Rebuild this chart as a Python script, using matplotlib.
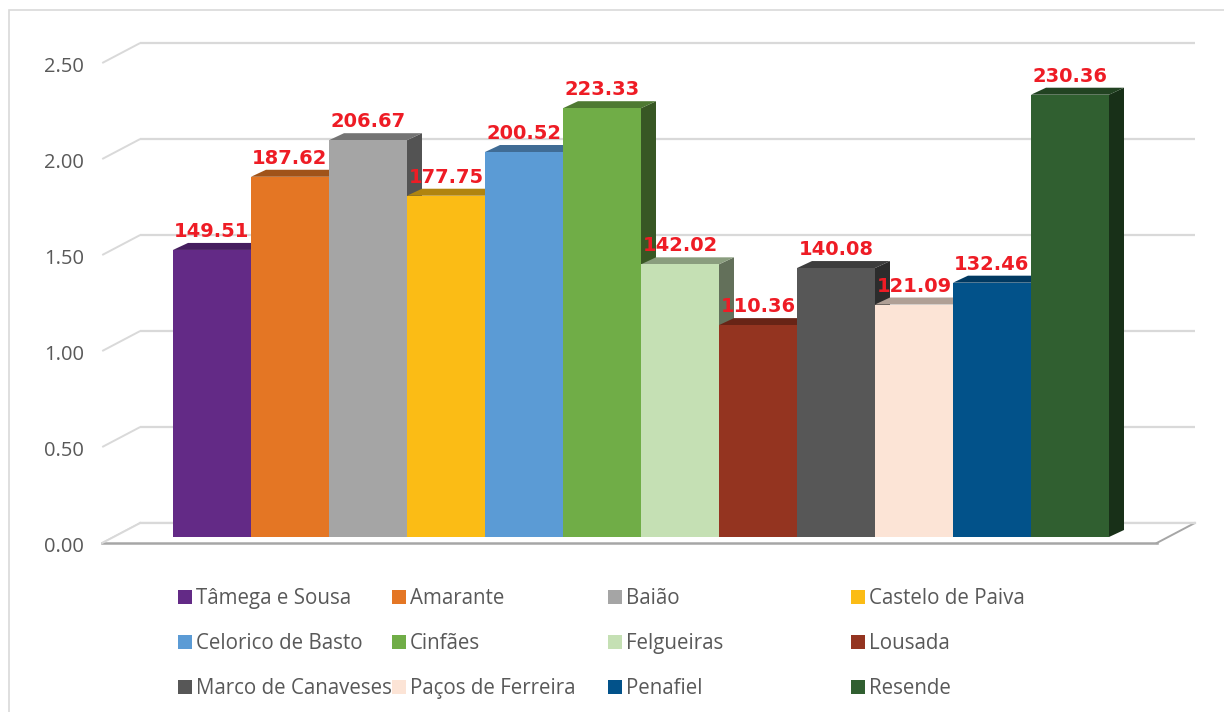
import matplotlib
matplotlib.use('Agg')
import matplotlib.pyplot as plt
from matplotlib.patches import Polygon, Rectangle
from matplotlib.transforms import Affine2D, IdentityTransform, blended_transform_factory
from matplotlib.colors import to_rgb

# dados
municipios = ['Tâmega e Sousa', 'Amarante', 'Baião', 'Castelo de Paiva',
              'Celorico de Basto', 'Cinfães', 'Felgueiras', 'Lousada',
              'Marco de Canaveses', 'Paços de Ferreira', 'Penafiel', 'Resende']
valores = [149.51, 187.62, 206.67, 177.75, 200.52, 223.33,
           142.02, 110.36, 140.08, 121.09, 132.46, 230.36]
cores = ['#632A86', '#E47624', '#A5A5A5', '#FBBC15', '#5B9BD5', '#70AD47',
         '#C5E0B4', '#943420', '#575757', '#FCE4D6', '#02528A', '#305F30']
niveis = [0.0, 0.5, 1.0, 1.5, 2.0, 2.5]

alturas = [v / 100 for v in valores]

W, H = 1224, 712
fig = plt.figure(figsize=(W / 100, H / 100), dpi=100)

# geometria (pixeis)
px_bar = 78.0      # largura de cada barra
px_unit = 192.0    # pixeis por unidade do eixo
x_first = 173      # borda esquerda da primeira barra
y_base = 537       # base das barras
ax_l, ax_r, ax_t, ax_b = 60, 1215, 15, 570

ax = fig.add_axes([ax_l / W, 1 - ax_b / H, (ax_r - ax_l) / W, (ax_b - ax_t) / H])
ax.set_xlim((ax_l - x_first) / px_bar - 0.5, (ax_r - x_first) / px_bar - 0.5)
ax.set_ylim((y_base - ax_b) / px_unit, (y_base - ax_t) / px_unit)
ax.axis('off')


def ddx(p):
    return p / px_bar


def ddy(p):
    return p / px_unit


def shade(c, f):
    r, g, b = to_rgb(c)
    return (r * f, g * f, b * f)


# planos de profundidade (pixeis em relacao ao plano das barras)
fx, fy = -11.5, -6     # frente
bx, by = 26.5, 14      # fundo
px_depth, py_depth = 15, 7

n = len(valores)
xL = -0.5 - 0.76
xR = n - 0.5 + 0.76

grid_c = '#D9D9D9'
for v in niveis:
    ax.plot([xL + ddx(fx), xL + ddx(bx)], [v + ddy(fy), v + ddy(by)],
            color=grid_c, lw=1.4, zorder=1, solid_capstyle='butt')
    ax.plot([xL + ddx(bx), xR + ddx(bx)], [v + ddy(by)] * 2,
            color=grid_c, lw=1.6, zorder=1, solid_capstyle='butt')

# chao
floor = Polygon([(xL + ddx(fx), ddy(fy)), (xR + ddx(fx), ddy(fy)),
                 (xR + ddx(bx), ddy(by)), (xL + ddx(bx), ddy(by))],
                closed=True, facecolor='white', edgecolor='none', zorder=1.2)
ax.add_patch(floor)
ax.plot([xL + ddx(fx), xR + ddx(fx)], [ddy(fy)] * 2, color='#A6A6A6', lw=1.8, zorder=1.3)
ax.plot([xR + ddx(fx), xR + ddx(bx)], [ddy(fy), ddy(by)], color='#A6A6A6', lw=1.4, zorder=1.3)
ax.plot([xL + ddx(fx), xL + ddx(bx)], [ddy(fy), ddy(by)], color=grid_c, lw=1.4, zorder=1.3)
ax.plot([xL + ddx(bx), xR + ddx(bx)], [ddy(by)] * 2, color=grid_c, lw=1.6, zorder=1.3)

# barras (face frontal)
pos = list(range(n))
bars = ax.bar(pos, alturas, width=1.0, color=cores, linewidth=0)
dxb, dyb = ddx(px_depth), ddy(py_depth)
for i, (rect, h, c) in enumerate(zip(bars, alturas, cores)):
    z = 2 + i * 0.1
    rect.set_zorder(z + 0.05)
    x0, x1 = i - 0.5, i + 0.5
    side = Polygon([(x1, 0), (x1 + dxb, dyb), (x1 + dxb, h + dyb), (x1, h)],
                   closed=True, facecolor=shade(c, 0.5), edgecolor='none', zorder=z)
    top = Polygon([(x0, h), (x1, h), (x1 + dxb, h + dyb), (x0 + dxb, h + dyb)],
                  closed=True, facecolor=shade(c, 0.7), edgecolor='none', zorder=z + 0.01)
    ax.add_patch(side)
    ax.add_patch(top)

# rotulos de dados
for i, (h, val) in enumerate(zip(alturas, valores)):
    ax.text(i, h + ddy(13), f'{val:.2f}', ha='center', va='baseline',
            color='#EE1C25', fontsize=14, fontweight='bold',
            family='DejaVu Sans', zorder=50)

# rotulos do eixo y
ytrans = blended_transform_factory(IdentityTransform(),
                                   ax.transData + Affine2D().translate(0, -15.5))
for v in niveis:
    ax.text(84, v, f'{v:.2f}', transform=ytrans, ha='right', va='baseline',
            fontsize=14.5, color='#595959', family='Open Sans')

# legenda
col_x = [178, 392, 608, 851]
row_y = [597, 642, 687]
for k, (nome, c) in enumerate(zip(municipios, cores)):
    r, cc = divmod(k, 4)
    fig.add_artist(Rectangle((col_x[cc] / W, 1 - (row_y[r] + 7) / H), 14 / W, 14 / H,
                             transform=fig.transFigure, facecolor=c, edgecolor='none'))
    fig.text((col_x[cc] + 18) / W, 1 - (row_y[r] + 7) / H, nome, ha='left',
             va='baseline', fontsize=14.8, color='#595959', family='Open Sans')

# moldura
fig.add_artist(Rectangle((9 / W, -0.05), 1.1, 1 - 10 / H + 0.05, transform=fig.transFigure,
                         fill=False, edgecolor='#D9D9D9', lw=1.2))

fig.savefig('out.png', dpi=100)
